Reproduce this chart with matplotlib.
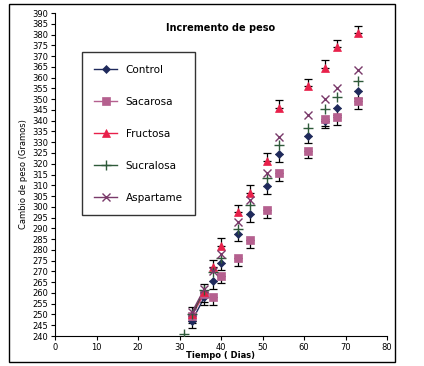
import matplotlib
matplotlib.use("Agg")
import matplotlib.pyplot as plt
from matplotlib.patches import Rectangle

dias = [33, 36, 38, 40, 44, 47, 51, 54, 61, 65, 68, 73]
control = [247, 258, 265.5, 274, 287.5, 296.5, 309.5, 324.5, 333, 340, 346, 354]
sacarosa = [249.5, 259.5, 258, 268, 276, 284.5, 298.5, 315.5, 326, 341, 341.5, 349]
fructosa = [250, 260.5, 272, 282, 297.5, 306.5, 321.5, 346, 356, 364.5, 374, 380.5]
dias_suc = [31, 33, 36, 38, 40, 44, 47, 51, 54, 61, 65, 68, 73]
sucralosa = [241, 250, 261.5, 269.5, 276, 289.5, 301, 313.5, 328.5, 336.5, 345.5, 351, 358.5]
aspartame = [251, 262, 270, 278, 293, 303, 315.5, 332.5, 342.5, 350, 355, 363.5]
err = 3.5

fig = plt.figure(figsize=(4.24, 3.66), dpi=100)
ax = fig.add_axes([55/424, 30/366, 332/424, 323/366])

fig.patches.append(Rectangle((9/424, 4/366), 386/424, 358/366, transform=fig.transFigure,
                             fill=False, edgecolor='black', linewidth=1.0))

series = [
    ("Control", dias, control, '#1F2A5C', 'D', 4, 'lower'),
    ("Sacarosa", dias, sacarosa, '#B5608F', 's', 6, 'lower'),
    ("Fructosa", dias, fructosa, '#E8204A', '^', 6, 'upper'),
    ("Sucralosa", dias_suc, sucralosa, '#2E5A3A', '+', 7, None),
    ("Aspartame", dias, aspartame, '#7A3A6A', 'x', 6, None),
]

for name, xs, ys, col, mk, ms, eb in series:
    # line between first two measurements of the group
    i0 = 1 if name == "Sucralosa" else 0
    ax.plot(xs[i0:i0+2], ys[i0:i0+2], color=col, lw=1.0, zorder=2)
    if eb == 'lower':
        ax.errorbar(xs, ys, yerr=[[err]*len(ys), [0]*len(ys)], fmt='none', ecolor='black',
                    elinewidth=0.9, capsize=3, capthick=0.9, zorder=2)
    elif eb == 'upper':
        ax.errorbar(xs, ys, yerr=[[0]*len(ys), [err]*len(ys)], fmt='none', ecolor='black',
                    elinewidth=0.9, capsize=3, capthick=0.9, zorder=2)
    ax.plot(xs, ys, linestyle='none', marker=mk, color=col, markersize=ms,
            markeredgewidth=1.0 if mk in '+x' else 0.5, zorder=3)
    ax.plot([], [], color=col, marker=mk, markersize=ms, lw=1.0, label=name,
            markeredgewidth=1.0 if mk in '+x' else 0.5)

ax.set_xlim(0, 80)
ax.set_ylim(240, 390)
ax.set_xticks(range(0, 81, 10))
ax.set_yticks(range(240, 391, 5))
ax.tick_params(axis='both', labelsize=6, length=3, width=0.8, direction='out', pad=2)
ax.spines['top'].set_visible(False)
ax.spines['right'].set_visible(False)
ax.set_xlabel("Tiempo ( Dias)", fontsize=6, fontweight='bold', labelpad=-1)
ax.set_ylabel("Cambio de peso (Gramos)", fontsize=6, labelpad=3)
ax.text(0.5, 0.955, "Incremento de peso", transform=ax.transAxes, ha='center', va='center',
        fontsize=7, fontweight='bold')

leg = ax.legend(loc='upper left', bbox_to_anchor=(0.081, 0.879), fontsize=7.5, frameon=True,
                fancybox=False, edgecolor='black', labelspacing=2.12, handlelength=2.2,
                borderpad=1.2, borderaxespad=0)
leg.get_frame().set_linewidth(1.0)

fig.savefig("out.png", dpi=100)
